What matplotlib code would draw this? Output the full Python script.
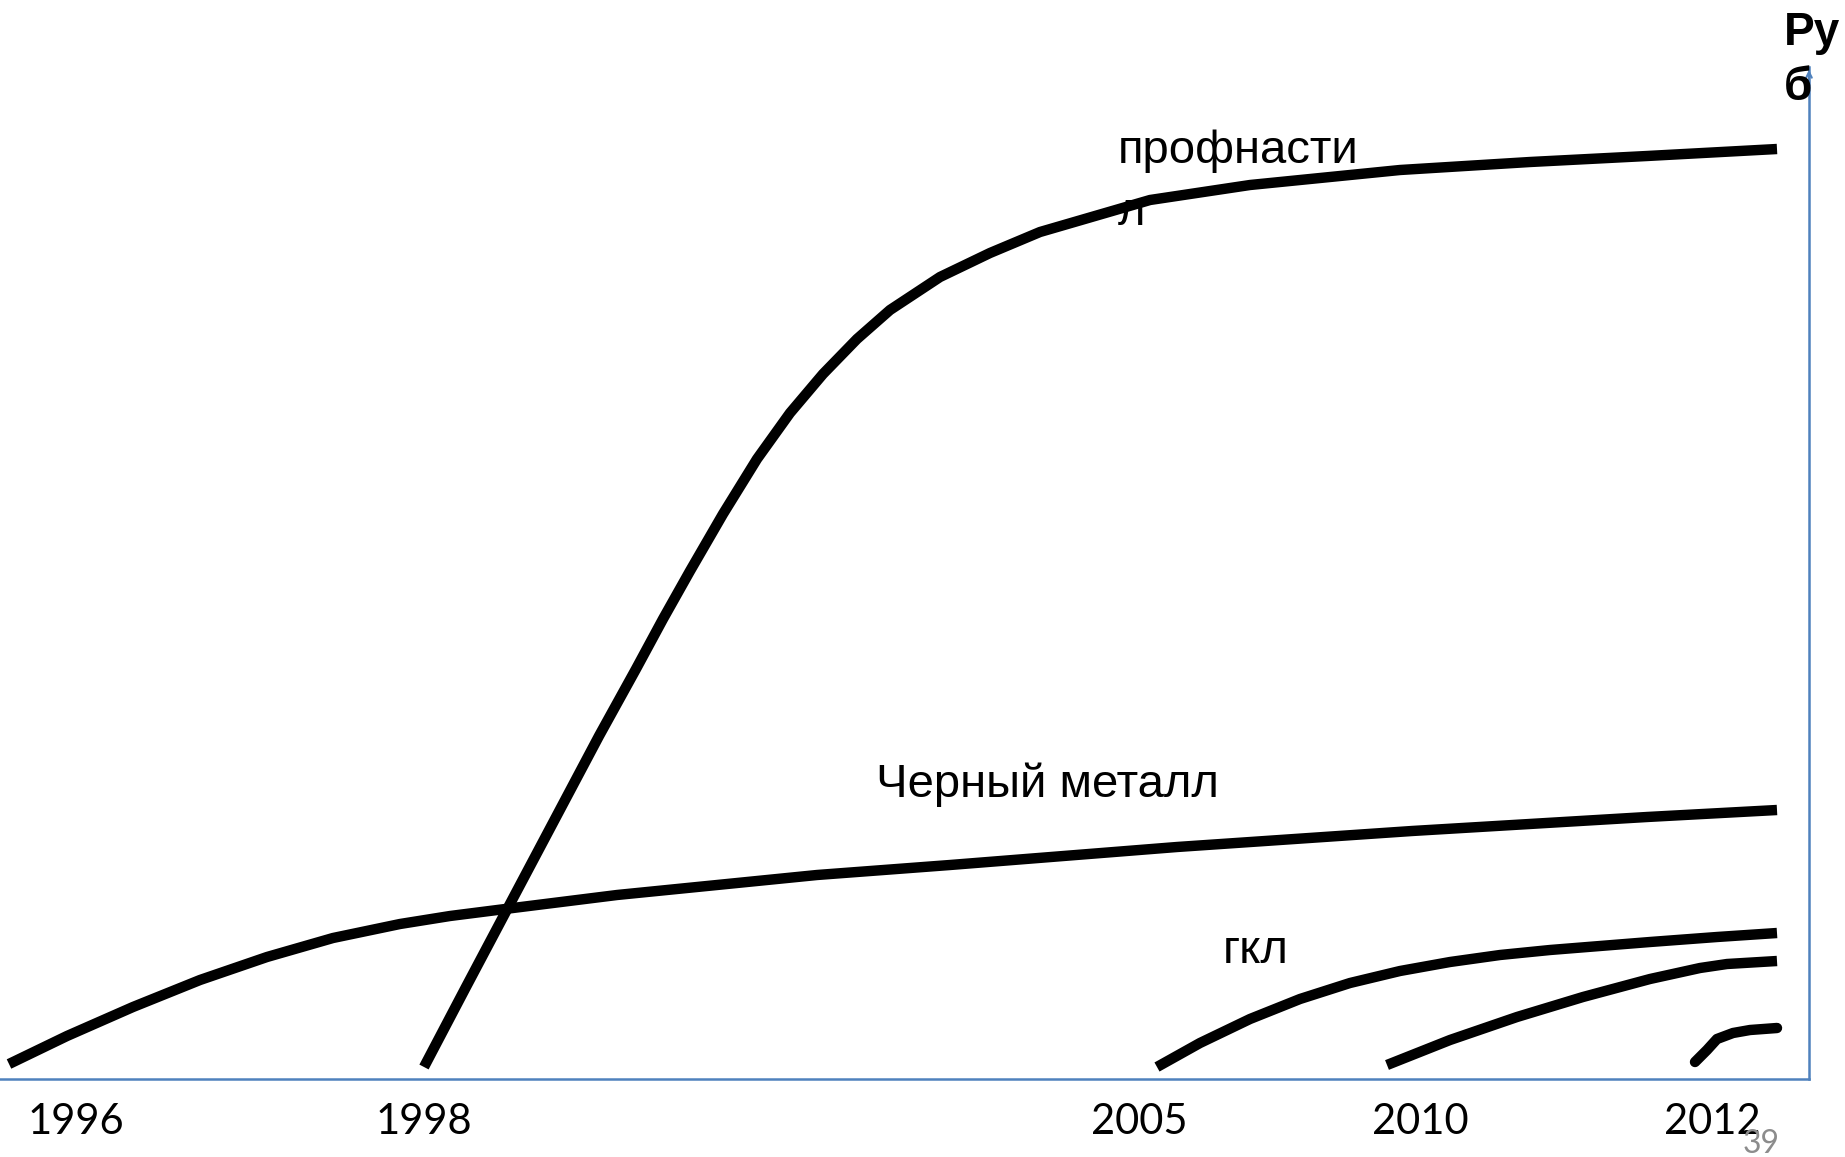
import numpy as np
import matplotlib
matplotlib.use('Agg')
import matplotlib.pyplot as plt

# positions along the axis (schematic units) and values of each curve
prof_x = [424, 466, 511, 555, 599, 636, 663, 690, 723, 757, 790, 823, 857, 890, 940, 990,
          1040, 1150, 1250, 1400, 1530, 1647, 1777]
prof_y = [12, 92, 177, 260, 343, 410, 460, 508, 565, 620, 666, 705, 740, 769, 802, 826,
          847, 879, 894, 909, 917, 923, 930]

chern_x = [9, 67, 133, 200, 267, 333, 400, 450, 513, 617, 717, 817, 950, 1177, 1412, 1647, 1777]
chern_y = [15, 43, 72, 99, 122, 141, 155, 163, 171, 184, 194, 204, 214, 232, 248, 262, 269]

gkl_x = [1157, 1200, 1250, 1300, 1350, 1400, 1450, 1500, 1550, 1650, 1717, 1777]
gkl_y = [12, 36, 60, 80, 96, 108, 117, 124, 129, 137, 142, 146]

c4_x = [1387, 1450, 1517, 1583, 1650, 1700, 1727, 1777]
c4_y = [14, 39, 62, 82, 100, 111, 115, 118]

c5_x = [1695, 1707, 1717, 1733, 1750, 1777]
c5_y = [17, 29, 40, 46, 49, 51]

year_pos = [76, 424, 1139, 1420, 1712]
year_lab = ['1996', '1998', '2005', '2010', '2012']

W, H = 1845, 1157
fig = plt.figure(figsize=(W / 100, H / 100), dpi=100)
ax = fig.add_axes([0, (H - 1079) / H, 1809 / W, (1079 - 67) / H])
ax.set_xlim(0, 1809)
ax.set_ylim(0, 1012)

blue = '#4F81BD'
for s in ['top', 'left']:
    ax.spines[s].set_visible(False)
for s in ['bottom', 'right']:
    ax.spines[s].set_color(blue)
    ax.spines[s].set_linewidth(1.8)
ax.annotate('', xy=(1, 1.0), xytext=(1, 0.97), xycoords='axes fraction',
            arrowprops=dict(arrowstyle='->', color=blue, lw=1.5))

# text first so the curves sit over the wrapped letter
ax.text(1238, 928, 'профнасти', fontsize=34, family='Liberation Sans', ha='center', va='center')
ax.text(1118, 866, 'л', fontsize=34, family='Liberation Sans', ha='left', va='center')
ax.text(1047, 294, 'Черный металл', fontsize=34, family='Liberation Sans', ha='center', va='center')
ax.text(1256, 128, 'гкл', fontsize=34, family='Liberation Sans', ha='center', va='center')

lw = 7.5
for xs, ys in [(prof_x, prof_y), (chern_x, chern_y), (gkl_x, gkl_y), (c4_x, c4_y)]:
    ax.plot(xs, ys, color='black', lw=lw, solid_capstyle='butt', solid_joinstyle='round', zorder=3)
ax.plot(c5_x, c5_y, color='black', lw=lw, solid_capstyle='round', solid_joinstyle='round', zorder=3)

ax.set_yticks([])
ax.set_xticks(year_pos)
ax.set_xticklabels(year_lab, fontsize=30, family='Lato')
ax.tick_params(axis='x', length=0, pad=17)

fig.text(1784 / W, 1 - 33 / H, 'Ру', fontsize=33, fontweight='bold', family='Liberation Sans', ha='left', va='center')
fig.text(1784 / W, 1 - 88 / H, 'б', fontsize=33, fontweight='bold', family='Liberation Sans', ha='left', va='center')
fig.text(1761 / W, 1 - 1144 / H, '39', fontsize=23, color='#8C8C8C', family='Lato', ha='center', va='center')

fig.savefig('out.png', dpi=100)
